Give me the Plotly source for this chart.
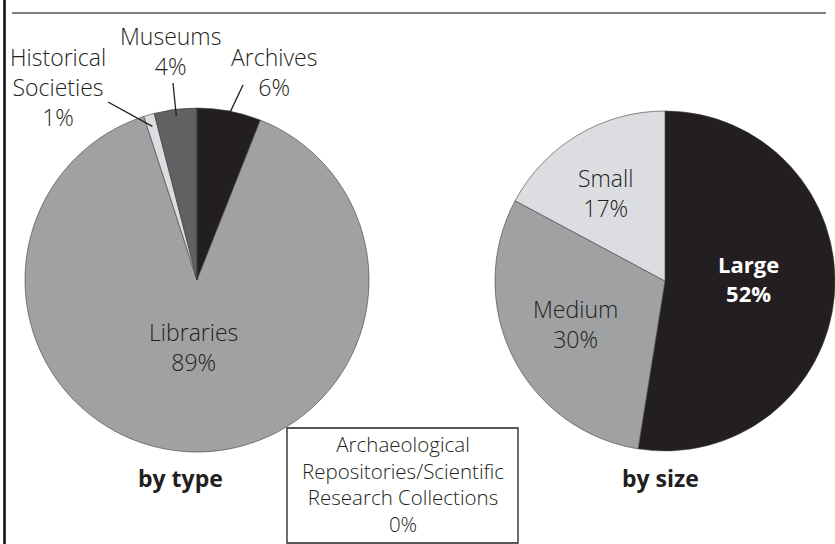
import math
import plotly.graph_objects as go

W, H = 835, 544

# ---- data ----
type_labels = ["Archives", "Libraries", "Historical Societies", "Museums",
               "Archaeological Repositories/Scientific Research Collections"]
type_values = [6, 89, 1, 4, 0]
type_colors = ["#231f20", "#a0a1a3", "#dcdde0", "#606163", "#ffffff"]

size_labels = ["Large", "Medium", "Small"]
size_values = [52, 30, 17]
size_colors = ["#231f20", "#a0a1a3", "#dcdde0"]

FONT = "Open Sans"
TXT = "#231f20"


def px(x):
    return x / W


def py(y):
    return 1 - y / H


def label(x, y, text, size=23, color=TXT, weight=300):
    return dict(x=px(x), y=py(y), xref="paper", yref="paper", text=text,
                showarrow=False, xanchor="center", yanchor="middle",
                font=dict(family=FONT, size=size, color=color, weight=weight))


# pie placement (pixels)
L_CX, L_CY, L_R = 197, 280, 172
R_CX, R_CY, R_R = 665, 281, 170

fig = go.Figure()
fig.add_trace(go.Pie(
    labels=type_labels, values=type_values, sort=False, direction="clockwise",
    rotation=0, marker=dict(colors=type_colors, line=dict(color="#3a3a3a", width=0.6)),
    textinfo="none", hoverinfo="label+percent", showlegend=False,
    domain=dict(x=[px(L_CX - L_R), px(L_CX + L_R)], y=[py(L_CY + L_R), py(L_CY - L_R)]),
))
fig.add_trace(go.Pie(
    labels=size_labels, values=size_values, sort=False, direction="clockwise",
    rotation=0, marker=dict(colors=size_colors, line=dict(color="#3a3a3a", width=0.6)),
    textinfo="none", hoverinfo="label+percent", showlegend=False,
    domain=dict(x=[px(R_CX - R_R), 1], y=[py(R_CY + R_R), py(R_CY - R_R)]),
))

total_t = sum(type_values)


def pct(v, tot):
    return f"{round(100 * v / tot)}%"


def mid_angle(values, i):
    tot = sum(values)
    start = sum(values[:i]) / tot
    return 2 * math.pi * (start + values[i] / tot / 2)


annotations = []
shapes = []

# outside labels of the small slices (left pie)
outside = {
    0: ("Archives<br>", (274, 72), (243, 85), 0.97),
    2: ("Historical<br>Societies<br>", (58, 87), (108, 102), 0.93),
    3: ("Museums<br>", (170, 51), (173, 83), 0.96),
}
for i, (name, (tx, ty), (lx, ly), rf) in outside.items():
    a = mid_angle(type_values, i)
    sx = L_CX + rf * L_R * math.sin(a)
    sy = L_CY - rf * L_R * math.cos(a)
    shapes.append(dict(type="line", xref="paper", yref="paper",
                       x0=px(sx), y0=py(sy), x1=px(lx), y1=py(ly),
                       line=dict(color=TXT, width=1.3)))
    annotations.append(label(tx, ty, name + pct(type_values[i], total_t)))

# Libraries inside label
annotations.append(label(193, 347, f"{type_labels[1]}<br>{pct(type_values[1], total_t)}"))

# right pie labels
annotations.append(label(748, 278, f"<b>{size_labels[0]}<br>{size_values[0]}%</b>",
                         size=22, color="#ffffff", weight=700))
annotations.append(label(575, 324, f"{size_labels[1]}<br>{size_values[1]}%"))
annotations.append(label(605, 193, f"{size_labels[2]}<br>{size_values[2]}%"))

# subtitles
annotations.append(label(180, 478, "<b>by type</b>", size=23, weight=700))
annotations.append(label(660, 478, "<b>by size</b>", size=23, weight=700))

# boxed zero-category label
shapes.append(dict(type="rect", xref="paper", yref="paper",
                   x0=px(287), x1=px(518), y0=py(543), y1=py(428),
                   line=dict(color=TXT, width=1.3), fillcolor="white"))
annotations.append(label(402.5, 484,
                         "Archaeological<br>Repositories/Scientific<br>Research Collections<br>"
                         + pct(type_values[4], total_t), size=20.5))

# frame lines
shapes.append(dict(type="line", xref="paper", yref="paper", x0=px(4.5), x1=px(4.5), y0=0, y1=1,
                   line=dict(color="#111111", width=2.6)))
shapes.append(dict(type="line", xref="paper", yref="paper", x0=px(12), x1=px(826), y0=py(13), y1=py(13),
                   line=dict(color="#555555", width=1.5)))

fig.update_layout(width=W, height=H, margin=dict(l=0, r=0, t=0, b=0),
                  paper_bgcolor="white", plot_bgcolor="white",
                  annotations=annotations, shapes=shapes)

fig.write_html("out.html", config={"displayModeBar": False},
               post_script="document.body.style.margin='0';document.body.style.overflow='hidden';")
